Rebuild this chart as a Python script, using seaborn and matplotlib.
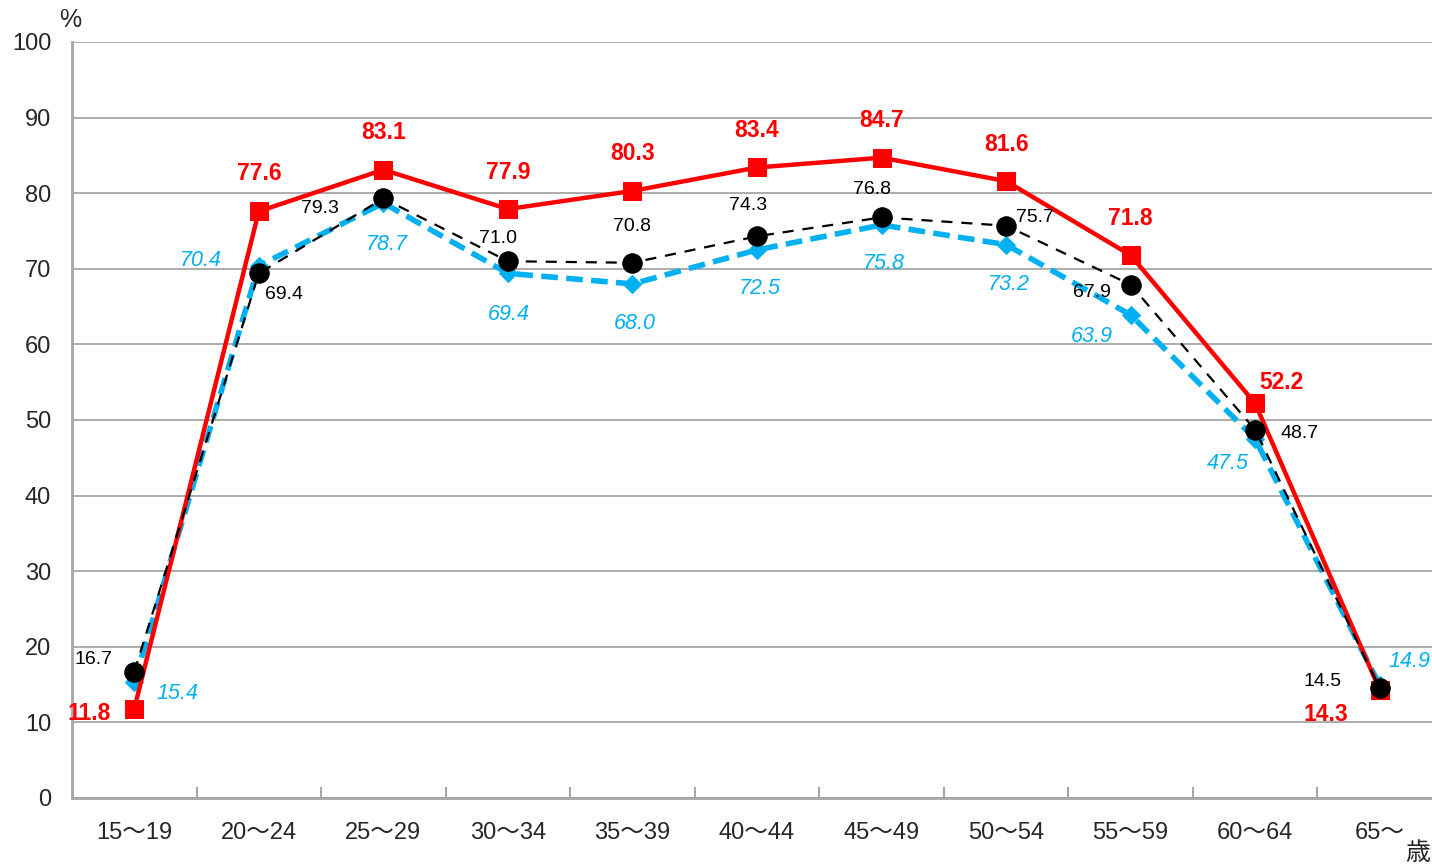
import numpy as np
import pandas as pd
import matplotlib
matplotlib.use("Agg")
import matplotlib.pyplot as plt
import seaborn as sns

ages = ["15〜19", "20〜24", "25〜29", "30〜34", "35〜39", "40〜44",
        "45〜49", "50〜54", "55〜59", "60〜64", "65〜"]
red_vals = [11.8, 77.6, 83.1, 77.9, 80.3, 83.4, 84.7, 81.6, 71.8, 52.2, 14.3]
black_vals = [16.7, 69.4, 79.3, 71.0, 70.8, 74.3, 76.8, 75.7, 67.9, 48.7, 14.5]
blue_vals = [15.4, 70.4, 78.7, 69.4, 68.0, 72.5, 75.8, 73.2, 63.9, 47.5, 14.9]
y_ticks = [0, 10, 20, 30, 40, 50, 60, 70, 80, 90, 100]

sns.set_theme(style="white")
FAM = ['Liberation Sans', 'Noto Sans CJK JP', 'DejaVu Sans']
plt.rcParams['font.family'] = FAM

fig = plt.figure(figsize=(14.32, 8.66), dpi=100)
ax = fig.add_axes([72/1432, 68/866, 1 - 72/1432, (798-42)/866])

x = np.arange(len(ages))
df = pd.DataFrame({"x": x, "red": red_vals, "black": black_vals, "blue": blue_vals})

RED = "#FF0000"
BLUE = "#00B0F0"

sns.lineplot(data=df, x="x", y="blue", ax=ax, color=BLUE, lw=4, dashes=False,
             linestyle=(0, (3, 1.5)), marker="D", markersize=9,
             markeredgecolor=BLUE, zorder=3)
sns.lineplot(data=df, x="x", y="red", ax=ax, color=RED, lw=3.2,
             marker="s", markersize=13, markeredgecolor=RED, zorder=4)
sns.lineplot(data=df, x="x", y="black", ax=ax, color="black", lw=1.6,
             linestyle=(0, (5, 4)), marker="o", markersize=14,
             markeredgecolor="black", zorder=5)

# label offsets in pixels (dx, dy)
red_off = [(-45, -5), (0, 38), (0, 37), (0, 37), (0, 37), (0, 37), (0, 37),
           (0, 37), (0, 37), (26, 21), (-54, -25)]
black_off = [(-41, 12), (25, -21), (-63, -10), (-10, 23), (0, 36), (-9, 31),
             (-10, 28), (29, 8), (-39, -8), (44, -4), (-57, 7)]
blue_off = [(43, -12), (-58, 5), (3, -41), (1, -41), (2, -40), (3, -39),
            (2, -39), (3, -40), (-39, -22), (-27, -25), (30, 24)]

for i in range(len(ages)):
    ax.annotate(f"{red_vals[i]:.1f}", (x[i], red_vals[i]), xytext=red_off[i],
                textcoords="offset pixels", ha="center", va="center",
                color=RED, fontsize=16.5, fontweight="bold", zorder=6)
    ax.annotate(f"{black_vals[i]:.1f}", (x[i], black_vals[i]), xytext=black_off[i],
                textcoords="offset pixels", ha="center", va="center",
                color="black", fontsize=14, zorder=6)
    ax.annotate(f"{blue_vals[i]:.1f}", (x[i], blue_vals[i]), xytext=blue_off[i],
                textcoords="offset pixels", ha="center", va="center",
                color=BLUE, fontsize=15.5, fontstyle="italic", zorder=6)

ax.set_xlim(-0.5, 10.42)
ax.set_ylim(0, 100)
ax.set_yticks(y_ticks)
ax.set_yticklabels([str(v) for v in y_ticks], fontsize=17)
ax.set_xticks(x)
ax.set_xticklabels(ages, fontsize=17)
ax.set_xticks(np.arange(len(ages) - 1) + 0.5, minor=True)
ax.tick_params(axis="x", which="major", length=0, pad=17)
ax.tick_params(axis="x", which="minor", length=8, width=1.5, direction="in",
               color="#A6A6A6", bottom=True)
ax.tick_params(axis="y", which="major", length=0, pad=15)

ax.grid(axis="y", color="#A6A6A6", lw=1.3)
ax.grid(axis="x", visible=False)
ax.set_axisbelow(True)
for s in ["top", "right"]:
    ax.spines[s].set_visible(False)
for s in ["left", "bottom"]:
    ax.spines[s].set_color("#A6A6A6")
    ax.spines[s].set_linewidth(2)
ax.set_xlabel("")
ax.set_ylabel("")

fig.text(70/1432, 1 - 20/866, "%", ha="center", va="center", fontsize=18)
fig.text(1418/1432, 1 - 853/866, "歳", ha="center", va="center", fontsize=18)

fig.savefig("out.png", dpi=100)
